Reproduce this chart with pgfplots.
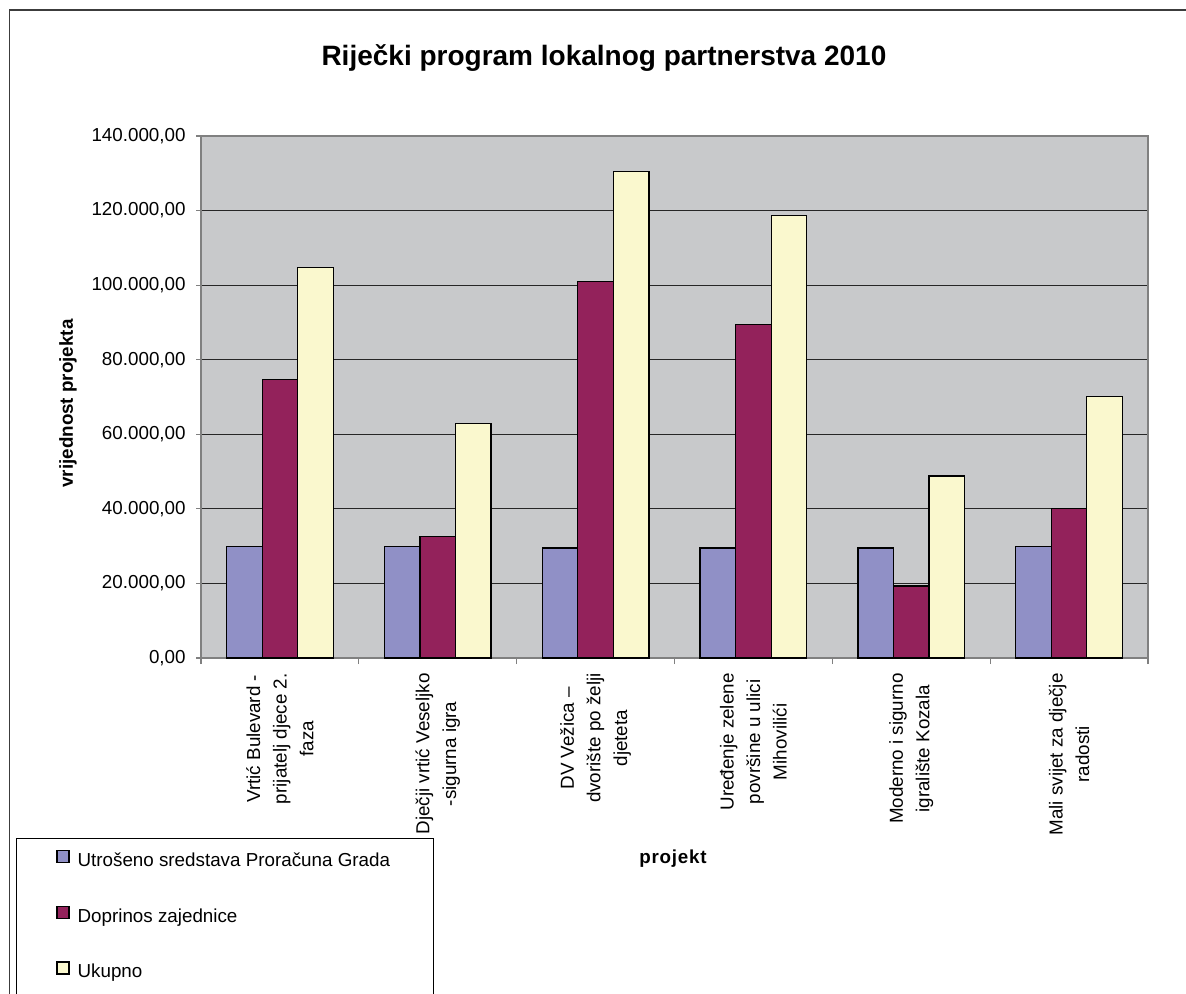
\documentclass[border=0pt]{standalone}
\usepackage{fontspec}
\setmainfont{Liberation Sans}
\usepackage{pgfplots}
\pgfplotsset{compat=1.18}

\definecolor{cBlue}{RGB}{144,144,198}
\definecolor{cRed}{RGB}{147,34,91}
\definecolor{cCream}{RGB}{250,248,206}
\definecolor{plotgray}{RGB}{200,201,203}
\definecolor{axgray}{RGB}{128,128,128}
\definecolor{framegray}{RGB}{60,60,60}

\begin{document}
\begin{tikzpicture}[x=0.5pt,y=0.5pt]
\useasboundingbox (0,0) rectangle (1186,993);
% outer chart frame (cropped on right and bottom)
\draw[framegray, line width=0.75pt] (9.5,-10) -- (9.5,983) -- (1200,983);
% legend frame
\draw[black, line width=0.5pt] (16,-10) -- (16,155) -- (433,155) -- (433,-10);
\coordinate (plotSW) at (201,335);

\begin{axis}[
    at={(plotSW)}, anchor=south west,
    scale only axis, width=473.5pt, height=261pt,
    ybar=0pt, bar width=17.78pt,
    xmin=-0.5, xmax=5.5, ymin=0, ymax=140000,
    xtick={0,...,5},
    xticklabels={
        {Vrtić Bulevard -\\prijatelj djece 2.\\faza},
        {Dječji vrtić Veseljko\\-sigurna igra},
        {DV Vežica –\\dvorište po želji\\djeteta},
        {Uređenje zelene\\površine u ulici\\Mihovilići},
        {Moderno i sigurno\\igralište Kozala},
        {Mali svijet za dječje\\radosti}},
    minor xtick={-0.5,0.5,...,5.5},
    major x tick style={draw=none},
    ytick={0,20000,...,140000},
    scaled y ticks=false,
    tick pos=left,
    tick align=outside,
    major tick length=2.5pt, minor tick length=3pt,
    tick style={draw=axgray, line width=0.6pt},
    ymajorgrids, grid style={black!85, line width=0.5pt},
    axis background/.style={fill=plotgray},
    axis line style={draw=axgray, line width=1pt},
    tick label style={font=\fontsize{9.4}{13.3}\selectfont},
    xticklabel style={rotate=90, anchor=east, align=center, inner xsep=5pt, inner ysep=0pt},
    yticklabel style={inner xsep=0pt, xshift=-5pt},
    /pgf/number format/.cd, fixed, fixed zerofill, precision=2, use comma, 1000 sep={.}, assume math mode=true,
    /pgfplots/.cd,
    title={Riječki program lokalnog partnerstva 2010},
    title style={at={(axis description cs:0.4255,1.127)}, anchor=center, font=\bfseries\fontsize{14}{16}\selectfont},
    ylabel={vrijednost projekta},
    ylabel style={at={(axis description cs:-0.1404,0.4876)}, rotate=0, anchor=center, font=\bfseries\fontsize{9.4}{11}\selectfont},
    xlabel={\addfontfeature{LetterSpace=4}projekt},
    xlabel style={at={(axis description cs:0.4984,-0.385)}, anchor=center, font=\bfseries\fontsize{9.4}{11}\selectfont},
    legend style={draw=none, fill=none, at={(axis description cs:-0.1531,-0.4943)}, anchor=west,
        inner sep=0pt, row sep=17.5pt, column sep=4pt,
        nodes={inner sep=0pt, text height=7pt, text depth=2pt},
        font=\fontsize{9.4}{11}\selectfont},
    legend cell align=left,
    mylegend/.style={legend image code/.code={\draw[##1, draw=black, line width=0.6pt] (0pt,-0.5pt) rectangle (6pt,5.5pt);}},
]
\addplot[fill=cBlue, draw=black, line width=0.6pt, mylegend] coordinates {
    (0,30000) (1,30000) (2,29500) (3,29500) (4,29500) (5,30000)};
\addplot[fill=cRed, draw=black, line width=0.6pt, mylegend] coordinates {
    (0,74800) (1,32500) (2,101000) (3,89500) (4,19300) (5,40100)};
\addplot[fill=cCream, draw=black, line width=0.6pt, mylegend] coordinates {
    (0,104800) (1,62900) (2,130500) (3,118700) (4,48800) (5,70100)};
\legend{Utrošeno sredstava Proračuna Grada, Doprinos zajednice, Ukupno}
\end{axis}
\end{tikzpicture}
\end{document}
